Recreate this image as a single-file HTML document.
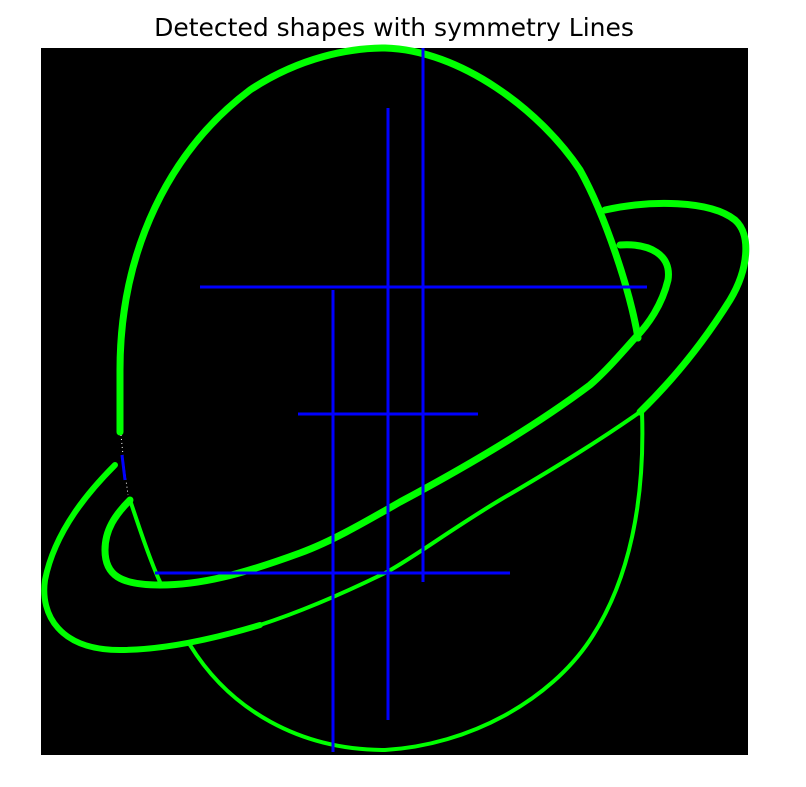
<!DOCTYPE html>
<html><head><meta charset="utf-8"><style>
body{margin:0;background:#fff;width:806px;height:782px;overflow:hidden;font-family:"Liberation Sans","DejaVu Sans",sans-serif}
</style></head><body>
<svg width="806" height="782">
<text x="394" y="36" text-anchor="middle" font-size="25" fill="#000" font-family="DejaVu Sans, Liberation Sans, sans-serif">Detected shapes with symmetry Lines</text>
<rect x="41" y="48" width="707" height="707" fill="#000"/>
<g fill="none" stroke="#00ff00" stroke-linecap="round" stroke-linejoin="round">
<path stroke-width="7" d="M120,432 L120,370 C120,250 170,150 250,90 C300,57 350,48 385,48 C460,50 540,110 580,170 C605,215 630,290 638,338"/>
<path stroke-width="4" d="M642,412 C645,500 630,580 590,640 C550,700 470,745 385,750 C300,750 230,710 190,645"/>
<path stroke-width="7" d="M605,210 C650,200 710,200 735,220 C752,235 748,270 730,300 C705,340 675,378 640,412"/>
<path stroke-width="4" d="M640,412 C600,440 560,465 500,500 C450,530 410,560 385,573 C340,595 300,612 260,625"/>
<path stroke-width="6" d="M260,625 C210,640 160,650 120,650 C60,650 40,615 45,580 C55,530 90,490 115,465"/>
<path stroke-width="7" d="M620,245 C650,243 672,255 668,280 C662,305 648,325 635,338 C620,355 605,372 590,385 C530,430 460,470 400,502 C360,525 330,542 300,553 C240,575 200,585 160,585 C120,585 105,575 105,550 C105,530 115,515 130,500"/>
<path stroke-width="4" d="M130,500 C140,530 150,560 160,582"/>
</g>
<path d="M121,435 L124,465 L128,495" stroke="#fff" stroke-width="1" stroke-dasharray="1,3" fill="none"/>
<g id="lines"></g>
<script>
const vX=[423,388,333];
const vY1=[48,108,290];
const vY2=[582,720,752];
const hY=[287,414,573];
const hX1=[200,298,155];
const hX2=[647,478,510];
const g=document.getElementById('lines');
const NS='http://www.w3.org/2000/svg';
function ln(x1,y1,x2,y2,n){const l=document.createElementNS(NS,'line');
l.setAttribute('x1',x1);l.setAttribute('y1',y1);l.setAttribute('x2',x2);l.setAttribute('y2',y2);
l.setAttribute('stroke','#0000ff');l.setAttribute('stroke-width','3');


g.appendChild(l);}
vX.forEach((x,i)=>ln(x,vY1[i],x,vY2[i],'vertical-symmetry-line-'+(i+1)));
hY.forEach((y,i)=>ln(hX1[i],y,hX2[i],y,'horizontal-symmetry-line-'+(i+1)));
ln(122,455,125,480,'small-blue-mark');
</script>
</svg>
</body></html>
